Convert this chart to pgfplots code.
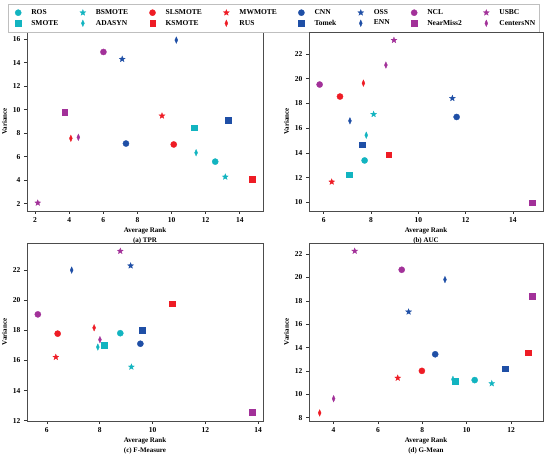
\documentclass[border=0pt]{standalone}
\usepackage{fontspec}
\setmainfont{Liberation Serif}
\usepackage{pgfplots}
\pgfplotsset{compat=1.18}
\usetikzlibrary{plotmarks}

\definecolor{ccyan}{HTML}{12B4C0}
\definecolor{cred}{HTML}{EE1C25}
\definecolor{cblue}{HTML}{1F4FA6}
\definecolor{cpurple}{HTML}{A23199}

\pgfdeclareplotmark{fstar}{%
  \pgfpathmoveto{\pgfpointpolar{90}{\pgfplotmarksize}}%
  \pgfpathlineto{\pgfpointpolar{126}{0.42\pgfplotmarksize}}%
  \pgfpathlineto{\pgfpointpolar{162}{\pgfplotmarksize}}%
  \pgfpathlineto{\pgfpointpolar{198}{0.42\pgfplotmarksize}}%
  \pgfpathlineto{\pgfpointpolar{234}{\pgfplotmarksize}}%
  \pgfpathlineto{\pgfpointpolar{270}{0.42\pgfplotmarksize}}%
  \pgfpathlineto{\pgfpointpolar{306}{\pgfplotmarksize}}%
  \pgfpathlineto{\pgfpointpolar{342}{0.42\pgfplotmarksize}}%
  \pgfpathlineto{\pgfpointpolar{18}{\pgfplotmarksize}}%
  \pgfpathlineto{\pgfpointpolar{54}{0.42\pgfplotmarksize}}%
  \pgfpathclose
  \pgfusepathqfillstroke
}

\pgfplotsset{
  mcirc/.style={only marks, mark=*, mark size=3.1, mark options={solid, line width=0.3pt}},
  msq/.style={only marks, mark=square*, mark size=2.8, mark options={solid, line width=0.3pt}},
  mstar/.style={only marks, mark=fstar, mark size=3.1, mark options={solid, line width=0.3pt}},
  mdia/.style={only marks, mark=diamond*, mark size=3.3, mark options={solid, xscale=0.6, line width=0.3pt}},
  ros/.style={mcirc, color=ccyan},
  smote/.style={msq, color=ccyan},
  bsmote/.style={mstar, color=ccyan},
  adasyn/.style={mdia, color=ccyan},
  slsmote/.style={mcirc, color=cred},
  ksmote/.style={msq, color=cred},
  mwmote/.style={mstar, color=cred},
  rus/.style={mdia, color=cred},
  cnn/.style={mcirc, color=cblue},
  tomek/.style={msq, color=cblue},
  oss/.style={mstar, color=cblue},
  enn/.style={mdia, color=cblue},
  ncl/.style={mcirc, color=cpurple},
  nearmiss/.style={msq, color=cpurple},
  usbc/.style={mstar, color=cpurple},
  centersnn/.style={mdia, color=cpurple},
  myax/.style={
    scale only axis,
    anchor=south west,
    axis line style={draw=black!70, line width=0.8pt},
    tick pos=left,
    tick align=outside,
    major tick length=3pt,
    tick style={black!80, line width=0.6pt},
    /pgf/number format/assume math mode=true,
    ticklabel style={font=\fontsize{7.5}{8}\selectfont\bfseries},
    label style={font=\fontsize{7}{10.5}\selectfont\bfseries},
    xlabel style={align=center, yshift=2pt},
    ylabel style={yshift=-1pt},
    ylabel={Variance},
  },
}

\begin{document}
\begin{tikzpicture}
\useasboundingbox (0,0) rectangle (550pt,456pt);

% (a) TPR
\begin{axis}[myax, at={(27pt,245pt)}, width=236pt, height=179pt,
  xmin=1.53, xmax=15.36, ymin=1.37, ymax=16.6,
  xtick={2,4,...,14}, ytick={2,4,...,16},
  xlabel={Average Rank\\(a) TPR},
  legend columns=8,
  legend cell align=left,
  legend image code/.code={%
    \path[draw=none, fill=none, opacity=0] (0.02cm,0cm) -- (0.69cm,0cm);
    \draw[mark repeat=2,mark phase=2,#1] plot coordinates {(0cm,0cm) (0.3cm,0cm) (0.6cm,0cm)};},
  legend style={at={(-0.0805,1.158)}, anchor=north west,
    draw=black!25, line width=0.5pt,
    font=\fontsize{7.5}{8}\selectfont\bfseries,
    /tikz/every even column/.append style={column sep=14.5pt},
    inner xsep=2pt, inner ysep=3.5pt, row sep=0pt},
]
\addplot[ros] coordinates {(12.56,5.57)}; \addlegendentry{ROS}
\addplot[bsmote] coordinates {(13.15,4.27)}; \addlegendentry{BSMOTE}
\addplot[slsmote] coordinates {(10.13,7.03)}; \addlegendentry{SLSMOTE}
\addplot[mwmote] coordinates {(9.44,9.47)}; \addlegendentry{MWMOTE}
\addplot[cnn] coordinates {(7.33,7.11)}; \addlegendentry{CNN}
\addplot[oss] coordinates {(7.11,14.29)}; \addlegendentry{OSS}
\addplot[ncl] coordinates {(6.01,14.90)}; \addlegendentry{NCL}
\addplot[usbc] coordinates {(2.16,2.06)}; \addlegendentry{USBC}
\addplot[smote] coordinates {(11.33,8.45)}; \addlegendentry{SMOTE}
\addplot[adasyn] coordinates {(11.44,6.33)}; \addlegendentry{ADASYN}
\addplot[ksmote] coordinates {(14.73,4.09)}; \addlegendentry{KSMOTE}
\addplot[rus] coordinates {(4.10,7.55)}; \addlegendentry{RUS}
\addplot[tomek] coordinates {(13.31,9.09)}; \addlegendentry{Tomek}
\addplot[enn] coordinates {(10.28,15.91)}; \addlegendentry{ENN}
\addplot[nearmiss] coordinates {(3.73,9.76)}; \addlegendentry{NearMiss2}
\addplot[centersnn] coordinates {(4.54,7.64)}; \addlegendentry{CentersNN}
\end{axis}

% (b) AUC
\begin{axis}[myax, at={(309pt,245pt)}, width=234pt, height=179pt,
  xmin=5.38, xmax=15.27, ymin=9.31, ymax=23.76,
  xtick={6,8,...,14}, ytick={10,12,...,22},
  xlabel={Average Rank\\(b) AUC},
]
\addplot[ros] coordinates {(7.73,13.39)};
\addplot[smote] coordinates {(7.07,12.23)};
\addplot[bsmote] coordinates {(8.11,17.12)};
\addplot[adasyn] coordinates {(7.80,15.43)};
\addplot[slsmote] coordinates {(6.69,18.55)};
\addplot[ksmote] coordinates {(8.75,13.86)};
\addplot[mwmote] coordinates {(6.34,11.66)};
\addplot[rus] coordinates {(7.68,19.63)};
\addplot[cnn] coordinates {(11.62,16.90)};
\addplot[tomek] coordinates {(7.63,14.66)};
\addplot[oss] coordinates {(11.44,18.41)};
\addplot[enn] coordinates {(7.11,16.59)};
\addplot[ncl] coordinates {(5.83,19.52)};
\addplot[nearmiss] coordinates {(14.82,9.97)};
\addplot[usbc] coordinates {(8.97,23.10)};
\addplot[centersnn] coordinates {(8.63,21.09)};
\end{axis}

% (c) F-Measure
\begin{axis}[myax, at={(27pt,35pt)}, width=236pt, height=178pt,
  xmin=5.25, xmax=14.18, ymin=11.98, ymax=23.8,
  xtick={6,8,...,14}, ytick={12,14,...,22},
  xlabel={Average Rank\\(c) F-Measure},
]
\addplot[ros] coordinates {(8.78,17.81)};
\addplot[smote] coordinates {(8.16,17.02)};
\addplot[bsmote] coordinates {(9.20,15.57)};
\addplot[adasyn] coordinates {(7.93,16.89)};
\addplot[slsmote] coordinates {(6.41,17.78)};
\addplot[ksmote] coordinates {(10.75,19.78)};
\addplot[mwmote] coordinates {(6.34,16.22)};
\addplot[rus] coordinates {(7.79,18.17)};
\addplot[cnn] coordinates {(9.54,17.11)};
\addplot[tomek] coordinates {(9.61,18.03)};
\addplot[oss] coordinates {(9.17,22.29)};
\addplot[enn] coordinates {(6.94,22.00)};
\addplot[ncl] coordinates {(5.66,19.06)};
\addplot[nearmiss] coordinates {(13.77,12.56)};
\addplot[usbc] coordinates {(8.78,23.26)};
\addplot[centersnn] coordinates {(8.01,17.38)};
\end{axis}

% (d) G-Mean
\begin{axis}[myax, at={(309pt,35pt)}, width=234pt, height=178pt,
  xmin=2.89, xmax=13.44, ymin=7.72, ymax=22.95,
  xtick={4,6,...,12}, ytick={8,10,...,22},
  xlabel={Average Rank\\(d) G-Mean},
]
\addplot[ros] coordinates {(10.36,11.22)};
\addplot[smote] coordinates {(9.49,11.11)};
\addplot[bsmote] coordinates {(11.13,10.93)};
\addplot[adasyn] coordinates {(9.38,11.28)};
\addplot[slsmote] coordinates {(7.98,12.01)};
\addplot[ksmote] coordinates {(12.77,13.58)};
\addplot[mwmote] coordinates {(6.89,11.40)};
\addplot[rus] coordinates {(3.37,8.41)};
\addplot[cnn] coordinates {(8.58,13.43)};
\addplot[tomek] coordinates {(11.74,12.21)};
\addplot[oss] coordinates {(7.38,17.06)};
\addplot[enn] coordinates {(9.02,19.82)};
\addplot[ncl] coordinates {(7.07,20.66)};
\addplot[nearmiss] coordinates {(12.96,18.40)};
\addplot[usbc] coordinates {(4.95,22.26)};
\addplot[centersnn] coordinates {(4.00,9.63)};
\end{axis}
\end{tikzpicture}
\end{document}
